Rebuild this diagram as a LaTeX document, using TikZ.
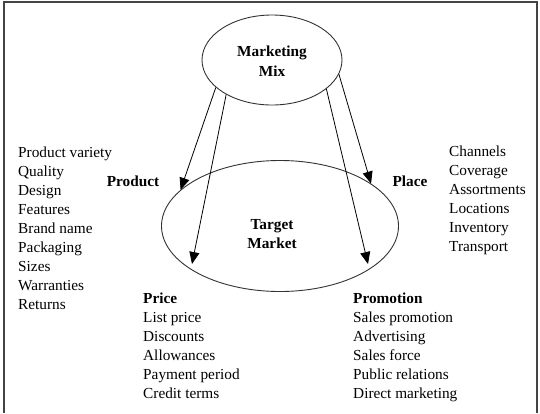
\documentclass[tikz,border=0pt]{standalone}
\usepackage{fontspec}
\setmainfont{Liberation Serif}
\usepackage{tikz}
\usetikzlibrary{arrows.meta,shapes.geometric}

\begin{document}
\begin{tikzpicture}[x=1pt, y=-1pt,
  every node/.style={font=\fontsize{15.3}{19}\selectfont},
  mixEllipse/.style={draw=lineDark, line width=0.9pt, ellipse, inner sep=0pt},
  headText/.style={font=\fontsize{15.3}{19.5}\selectfont\bfseries, align=center},
  listText/.style={align=left, inner sep=0pt, anchor=north west},
  mixArrow/.style={draw=black, line width=0.8pt, -{Triangle[length=12pt, width=10pt]}}]

% Colori
\definecolor{lineDark}{HTML}{333333}
\definecolor{frameGray}{HTML}{444444}

\useasboundingbox (0,0) rectangle (540,413);

% Cornice
\draw[frameGray, line width=2pt] (4,413) -- (4,2) -- (537,2) -- (537,413);

% Ellissi
\node[mixEllipse, minimum width=140pt, minimum height=90pt] (mix) at (272,60) {};
\node[mixEllipse, minimum width=237pt, minimum height=131pt] (target) at (280,226) {};
\node[headText] (mixText) at (272,61) {Marketing\\Mix};
\node[headText] (targetText) at (272,234) {Target\\Market};

% Punte delle frecce
\coordinate (priceTip) at (192,264);
\coordinate (promoTip) at (368,264);

% Frecce
\draw[mixArrow] (mix.206) -- (target.160);
\draw[mixArrow] (mix.217) -- (priceTip);
\draw[mixArrow] (mix.332) -- (promoTip);
\draw[mixArrow] (mix.348) -- (target.25);

% Etichette
\node[headText] (product) at (133,181) {Product};
\node[headText] (place) at (410,181) {Place};

% Liste
\node[listText] (productList) at (18,147) {Product variety\\Quality\\Design\\Features\\Brand name\\Packaging\\Sizes\\Warranties\\Returns};
\node[listText] (placeList) at (449,146) {Channels\\Coverage\\Assortments\\Locations\\Inventory\\Transport};
\node[listText] (priceList) at (143,293) {\textbf{Price}\\List price\\Discounts\\Allowances\\Payment period\\Credit terms};
\node[listText] (promoList) at (353,293) {\textbf{Promotion}\\Sales promotion\\Advertising\\Sales force\\Public relations\\Direct marketing};
\end{tikzpicture}
\end{document}
